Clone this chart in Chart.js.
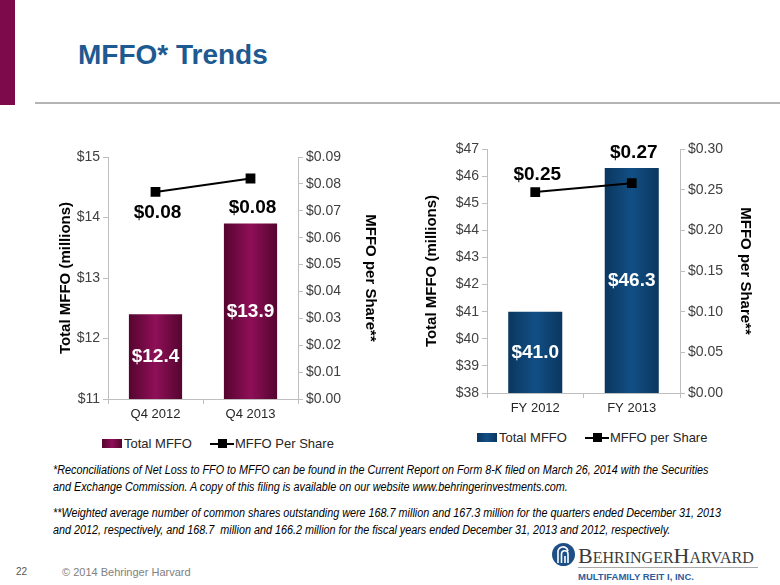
<!DOCTYPE html>
<html>
<head>
<meta charset="utf-8">
<script src="https://cdn.jsdelivr.net/npm/chart.js@4.4.0/dist/chart.umd.min.js"></script>
<style>
  body { margin: 0; width: 780px; height: 585px; position: relative; background: #fff; overflow: hidden;
         font-family: "Liberation Sans", Arial, sans-serif; }
  .stripe { position: absolute; left: 0; top: 0; width: 15px; height: 105px; background: #7d0a4b; }
  .rule { position: absolute; left: 35px; top: 102px; width: 745px; height: 2px; background: #b4b4b4; }
  h1 { position: absolute; left: 78px; top: 39px; margin: 0; font-size: 28px; font-weight: bold; color: #1d5a91; }
  canvas { position: absolute; }
  .legend { position: absolute; font-size: 13px; color: #262626; white-space: nowrap; display: flex; align-items: center; }
  .legend .box { display: inline-block; width: 20px; height: 9px; margin-right: 2px; }
  .legend .ln { display: inline-block; width: 24px; height: 2px; background: #000; position: relative; margin-left: 18px; margin-right: 1px; }
  .legend .ln::after { content: ""; position: absolute; left: 8px; top: -4px; width: 9px; height: 9px; background: #000; }
  .notes { position: absolute; left: 53px; top: 462px; font-style: italic; font-size: 12px; line-height: 17px; color: #000;
           white-space: nowrap; transform: scaleX(0.9); transform-origin: 0 0; }
  .pg { position: absolute; left: 16px; top: 566px; font-size: 10px; color: #555; }
  .copy { position: absolute; left: 62px; top: 566px; font-size: 11px; color: #808080; }
  .logo1 { position: absolute; left: 578px; top: 543px; font-family: "Liberation Serif", serif; color: #3a3a3a; font-size: 16px; white-space: nowrap; }
  .logo1 b { font-weight: normal; font-size: 22px; }
  .logoline { position: absolute; left: 578px; top: 567px; width: 180px; height: 1px; background: #a8a8a8; }
  .logo2 { position: absolute; left: 578px; top: 571px; font-size: 9.5px; font-weight: bold; color: #2c5e9e; white-space: nowrap; }
  .icon { position: absolute; left: 552px; top: 543px; }
</style>
</head>
<body>
<div class="stripe"></div>
<h1>MFFO* Trends</h1>
<div class="rule"></div>

<canvas id="quarterChart" width="330" height="285" style="left:53px;top:140px"></canvas>
<canvas id="yearChart" width="339" height="289" style="left:419px;top:130px"></canvas>
<div class="legend" id="quarterLegend" style="left:102px;top:436px"></div>
<div class="legend" id="yearLegend" style="left:477px;top:430px"></div>

<div class="notes">
*Reconciliations of Net Loss to FFO to MFFO can be found in the Current Report on Form 8-K filed on March 26, 2014 with the Securities<br>
and Exchange Commission. A copy of this filing is available on our website www.behringerinvestments.com.<br>
<div style="height:9px"></div>
**Weighted average number of common shares outstanding were 168.7 million and 167.3 million for the quarters ended December 31, 2013<br>
and 2012, respectively, and 168.7&nbsp; million and 166.2 million for the fiscal years ended December 31, 2013 and 2012, respectively.
</div>

<div class="pg">22</div>
<div class="copy">© 2014 Behringer Harvard</div>
<svg class="icon" width="23" height="23" viewBox="0 0 23 23">
  <circle cx="11.5" cy="11.5" r="11.5" fill="#1d4f86"/>
  <path d="M6 20 V10 A5 5 0 0 1 16 8" stroke="#fff" stroke-width="1.6" fill="none"/>
  <path d="M9.5 20 V11 A3 3 0 0 1 16 11 V20" stroke="#fff" stroke-width="1.6" fill="none"/>
  <path d="M13 20 V13" stroke="#fff" stroke-width="1.6" fill="none"/>
</svg>
<div class="logo1"><b>B</b>EHRINGER<b>H</b>ARVARD</div>
<div class="logoline"></div>
<div class="logo2">MULTIFAMILY REIT I, INC.</div>

<script>
const quarterLabels = ["Q4 2012", "Q4 2013"];
const quarterMffo = [12.4, 13.9];
const quarterPerShare = [0.077, 0.082];
const quarterPerShareText = ["$0.08", "$0.08"];

const yearLabels = ["FY 2012", "FY 2013"];
const yearMffo = [41.0, 46.3];
const yearPerShare = [0.247, 0.258];
const yearPerShareText = ["$0.25", "$0.27"];

const BAR_PCT = 0.56;
const tickFont = { family: "Liberation Sans", size: 14 };
const titleFont = { family: "Liberation Sans", size: 15, weight: "bold" };
const axisGray = "#bfbfbf";

function barGradient(dark, light) {
  return ctx => {
    const chart = ctx.chart;
    const xs = chart.scales.x;
    if (!chart.chartArea || !xs || ctx.type !== "data") return light;
    const cx = xs.getPixelForValue(ctx.dataIndex);
    const half = (xs.width / chart.data.labels.length) * BAR_PCT / 2;
    const g = chart.ctx.createLinearGradient(cx - half, 0, cx + half, 0);
    g.addColorStop(0, dark);
    g.addColorStop(0.5, light);
    g.addColorStop(1, dark);
    return g;
  };
}

const valueLabels = {
  id: "valueLabels",
  afterDatasetsDraw(chart, args, opts) {
    const ctx = chart.ctx;
    ctx.save();
    ctx.textAlign = "center";
    ctx.textBaseline = "middle";
    ctx.font = "bold 19px 'Liberation Sans'";
    chart.data.datasets.forEach((ds, i) => {
      const meta = chart.getDatasetMeta(i);
      meta.data.forEach((el, j) => {
        if (ds.type === "bar") {
          const bottom = chart.scales.y.bottom;
          ctx.fillStyle = "#fff";
          ctx.fillText("$" + ds.data[j].toFixed(1), el.x, (el.y + bottom) / 2);
        } else {
          ctx.fillStyle = "#000";
          ctx.fillText(opts.lineText[j], el.x + 2, el.y + opts.lineOffsets[j]);
        }
      });
    });
    ctx.restore();
  }
};

function makeChart(id, legendId, cfg) {
  const chart = new Chart(document.getElementById(id), {
    data: {
      labels: cfg.labels,
      datasets: [
        {
          type: "line", label: cfg.lineLabel, data: cfg.perShare, yAxisID: "y1",
          borderColor: "#000", borderWidth: 2, pointStyle: "rect", pointRadius: 5.5,
          pointBackgroundColor: "#000", pointBorderColor: "#000", order: 0
        },
        {
          type: "bar", label: "Total MFFO", data: cfg.mffo, yAxisID: "y",
          backgroundColor: barGradient(cfg.dark, cfg.light), order: 1,
          barPercentage: BAR_PCT, categoryPercentage: 1
        }
      ]
    },
    options: {
      responsive: false,
      animation: false,
      layout: { padding: { top: cfg.padTop, left: 0, right: 0, bottom: 0 } },
      plugins: {
        legend: { display: false },
        tooltip: { enabled: false },
        valueLabels: { lineText: cfg.lineText, lineOffsets: cfg.lineOffsets }
      },
      scales: {
        x: {
          grid: { drawOnChartArea: false, tickLength: 5, color: axisGray, offset: true },
          border: { color: axisGray },
          ticks: { font: { family: "Liberation Sans", size: 13 }, color: "#262626", padding: 3 },
          afterFit: s => { s.height = 26; }
        },
        y: {
          position: "left", min: cfg.yMin, max: cfg.yMax,
          ticks: { stepSize: 1, font: tickFont, color: "#404040", padding: 3, callback: v => "$" + v },
          grid: { drawOnChartArea: false, tickLength: 5, color: axisGray },
          border: { color: axisGray },
          title: { display: true, text: "Total MFFO (millions)", font: titleFont, color: "#000" },
          afterFit: s => { s.width = cfg.leftW; }
        },
        y1: {
          position: "right", min: 0, max: cfg.y1Max,
          ticks: { stepSize: cfg.y1Step, font: tickFont, color: "#404040", padding: 3, callback: v => "$" + v.toFixed(2) },
          grid: { drawOnChartArea: false, tickLength: 5, color: axisGray },
          border: { color: axisGray },
          title: { display: true, text: "MFFO per Share**", font: titleFont, color: "#000" },
          afterFit: s => { s.width = cfg.rightW; }
        }
      }
    },
    plugins: [valueLabels]
  });

  const lg = document.getElementById(legendId);
  const bar = chart.data.datasets[1];
  const line = chart.data.datasets[0];
  lg.innerHTML =
    `<span class="box" style="background:linear-gradient(90deg,${cfg.dark},${cfg.light},${cfg.dark})"></span>${bar.label}` +
    `<span class="ln"></span>${line.label}`;
  return chart;
}

makeChart("quarterChart", "quarterLegend", {
  labels: quarterLabels, mffo: quarterMffo, perShare: quarterPerShare,
  lineText: quarterPerShareText, lineOffsets: [21, 29], lineLabel: "MFFO Per Share",
  yMin: 11, yMax: 15, y1Max: 0.09, y1Step: 0.01,
  dark: "#55052f", light: "#8f0f58",
  padTop: 17, leftW: 55, rightW: 85
});

makeChart("yearChart", "yearLegend", {
  labels: yearLabels, mffo: yearMffo, perShare: yearPerShare,
  lineText: yearPerShareText, lineOffsets: [-17, -30], lineLabel: "MFFO per Share",
  yMin: 38, yMax: 47, y1Max: 0.30, y1Step: 0.05,
  dark: "#0a375f", light: "#124f85",
  padTop: 19, leftW: 68, rightW: 78
});
</script>
</body>
</html>
